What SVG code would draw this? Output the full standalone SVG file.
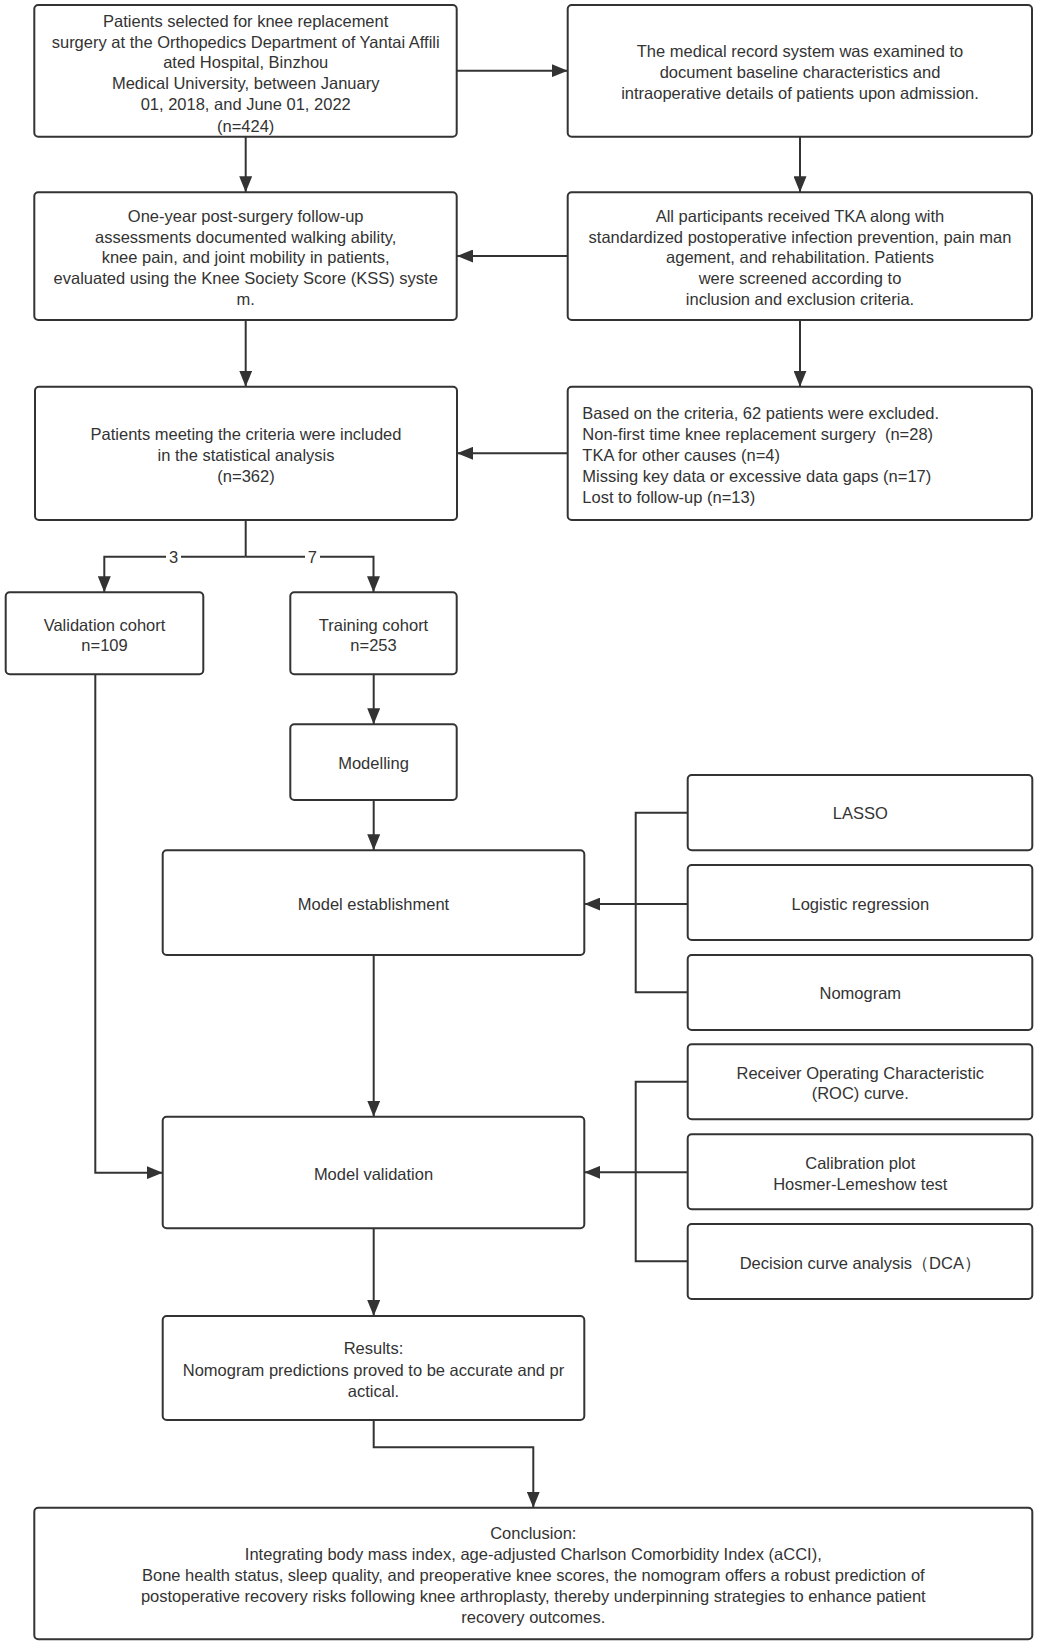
<svg xmlns="http://www.w3.org/2000/svg" width="1037" height="1645" viewBox="0 0 1037 1645">
<style>
.box{fill:#fff;stroke:#333;stroke-width:2}
.t{font-family:"Liberation Sans",Arial,sans-serif;font-size:16.5px;fill:#333;text-anchor:middle}
.tl{font-family:"Liberation Sans",Arial,sans-serif;font-size:16.5px;fill:#333;text-anchor:start}
.c{fill:none;stroke:#333;stroke-width:2}
</style>
<defs>
<marker id="ah" markerUnits="userSpaceOnUse" markerWidth="16" markerHeight="13" refX="16" refY="6.5" orient="auto">
<path d="M0,0 L16,6.5 L0,13 z" fill="#333"/>
</marker>
</defs>
<rect width="1037" height="1645" fill="#fff"/>
<g id="connectors">
<path class="c" d="M457,70.7 H567.7" marker-end="url(#ah)"/>
<path class="c" d="M245.7,137 V192.3" marker-end="url(#ah)"/>
<path class="c" d="M800,137 V192.3" marker-end="url(#ah)"/>
<path class="c" d="M567.7,256 H457" marker-end="url(#ah)"/>
<path class="c" d="M245.7,320 V386.7" marker-end="url(#ah)"/>
<path class="c" d="M800,320 V386.7" marker-end="url(#ah)"/>
<path class="c" d="M567.7,453.3 H457" marker-end="url(#ah)"/>
<path class="c" d="M245.7,520 V556.7"/>
<path class="c" d="M245.7,556.7 H104.3 V592.3" marker-end="url(#ah)"/>
<path class="c" d="M245.7,556.7 H373.5 V592.3" marker-end="url(#ah)"/>
<rect x="166" y="546" width="15" height="20" fill="#fff"/>
<text class="t" x="173.7" y="562.5">3</text>
<rect x="305" y="546" width="15" height="20" fill="#fff"/>
<text class="t" x="312.3" y="562.5">7</text>
<path class="c" d="M373.7,674.3 V724.3" marker-end="url(#ah)"/>
<path class="c" d="M373.7,800 V850.3" marker-end="url(#ah)"/>
<path class="c" d="M95.3,674.3 V1172.7 H162.7" marker-end="url(#ah)"/>
<path class="c" d="M687.7,812.7 H635.7 V992.3 H687.7"/>
<path class="c" d="M687.7,904 H584.3" marker-end="url(#ah)"/>
<path class="c" d="M687.7,1081.7 H635.7 V1261.3 H687.7"/>
<path class="c" d="M687.7,1172.3 H584.3" marker-end="url(#ah)"/>
<path class="c" d="M373.7,955 V1116.7" marker-end="url(#ah)"/>
<path class="c" d="M373.7,1228.3 V1316" marker-end="url(#ah)"/>
<path class="c" d="M373.7,1420 V1447.3 H533.3 V1507.7" marker-end="url(#ah)"/>
</g>
<g id="n1">
<rect class="box" x="34.3" y="5" width="422.4" height="131.7" rx="4"/>
<text class="t" x="245.7" y="26.7">Patients selected for knee replacement</text>
<text class="t" x="245.7" y="47.7">surgery at the Orthopedics Department of Yantai Affili</text>
<text class="t" x="245.7" y="68.3">ated Hospital, Binzhou</text>
<text class="t" x="245.7" y="89.3">Medical University, between January</text>
<text class="t" x="245.7" y="110">01, 2018, and June 01, 2022</text>
<text class="t" x="245.7" y="131.7">(n=424)</text>
</g>
<g id="n2">
<rect class="box" x="567.7" y="5" width="464.3" height="131.7" rx="4"/>
<text class="t" x="800" y="56.7">The medical record system was examined to</text>
<text class="t" x="800" y="77.7">document baseline characteristics and</text>
<text class="t" x="800" y="98.7">intraoperative details of patients upon admission.</text>
</g>
<g id="n3">
<rect class="box" x="34.3" y="192.3" width="422.4" height="127.7" rx="4"/>
<text class="t" x="245.7" y="221.7">One-year post-surgery follow-up</text>
<text class="t" x="245.7" y="242.7">assessments documented walking ability,</text>
<text class="t" x="245.7" y="263.3">knee pain, and joint mobility in patients,</text>
<text class="t" x="245.7" y="284">evaluated using the Knee Society Score (KSS) syste</text>
<text class="t" x="245.7" y="305">m.</text>
</g>
<g id="n4">
<rect class="box" x="567.7" y="192.3" width="464.3" height="127.7" rx="4"/>
<text class="t" x="800" y="221.7">All participants received TKA along with</text>
<text class="t" x="800" y="242.7">standardized postoperative infection prevention, pain man</text>
<text class="t" x="800" y="263.3">agement, and rehabilitation. Patients</text>
<text class="t" x="800" y="284">were screened according to</text>
<text class="t" x="800" y="305">inclusion and exclusion criteria.</text>
</g>
<g id="n5">
<rect class="box" x="35" y="386.7" width="422" height="133.3" rx="4"/>
<text class="t" x="246" y="440">Patients meeting the criteria were included</text>
<text class="t" x="246" y="460.7">in the statistical analysis</text>
<text class="t" x="246" y="481.7">(n=362)</text>
</g>
<g id="n6">
<rect class="box" x="567.7" y="386.7" width="464.3" height="133.3" rx="4"/>
<text class="tl" x="582.3" y="418.7">Based on the criteria, 62 patients were excluded.</text>
<text class="tl" x="582.3" y="439.7" xml:space="preserve">Non-first time knee replacement surgery  (n=28)</text>
<text class="tl" x="582.3" y="460.7">TKA for other causes (n=4)</text>
<text class="tl" x="582.3" y="481.7">Missing key data or excessive data gaps (n=17)</text>
<text class="tl" x="582.3" y="502.7">Lost to follow-up (n=13)</text>
</g>
<g id="n7">
<rect class="box" x="5.7" y="592.3" width="197.6" height="82" rx="4"/>
<text class="t" x="104.5" y="631">Validation cohort</text>
<text class="t" x="104.5" y="651">n=109</text>
</g>
<g id="n8">
<rect class="box" x="290.3" y="592.3" width="166.4" height="82" rx="4"/>
<text class="t" x="373.5" y="631">Training cohort</text>
<text class="t" x="373.5" y="651">n=253</text>
</g>
<g id="n9">
<rect class="box" x="290.3" y="724.3" width="166.4" height="75.7" rx="4"/>
<text class="t" x="373.5" y="769.3">Modelling</text>
</g>
<g id="n10">
<rect class="box" x="162.7" y="850.3" width="421.6" height="104.7" rx="4"/>
<text class="t" x="373.5" y="910">Model establishment</text>
</g>
<g id="n11">
<rect class="box" x="687.7" y="775" width="344.6" height="75.3" rx="4"/>
<text class="t" x="860.3" y="819.3">LASSO</text>
</g>
<g id="n12">
<rect class="box" x="687.7" y="865" width="344.6" height="75" rx="4"/>
<text class="t" x="860.3" y="910">Logistic regression</text>
</g>
<g id="n13">
<rect class="box" x="687.7" y="955" width="344.6" height="75" rx="4"/>
<text class="t" x="860.3" y="999.3">Nomogram</text>
</g>
<g id="n14">
<rect class="box" x="687.7" y="1044.3" width="344.6" height="75" rx="4"/>
<text class="t" x="860.3" y="1078.7">Receiver Operating Characteristic</text>
<text class="t" x="860.3" y="1099.3">(ROC) curve.</text>
</g>
<g id="n15">
<rect class="box" x="687.7" y="1134.3" width="344.6" height="75" rx="4"/>
<text class="t" x="860.3" y="1169.3">Calibration plot</text>
<text class="t" x="860.3" y="1190">Hosmer-Lemeshow test</text>
</g>
<g id="n16">
<rect class="box" x="687.7" y="1224" width="344.6" height="75" rx="4"/>
<text class="t" x="860.3" y="1269.3">Decision curve analysis（DCA）</text>
</g>
<g id="n17">
<rect class="box" x="162.7" y="1116.7" width="421.6" height="111.6" rx="4"/>
<text class="t" x="373.5" y="1180.3">Model validation</text>
</g>
<g id="n18">
<rect class="box" x="162.7" y="1316" width="421.6" height="104" rx="4"/>
<text class="t" x="373.5" y="1354.3">Results:</text>
<text class="t" x="373.5" y="1376">Nomogram predictions proved to be accurate and pr</text>
<text class="t" x="373.5" y="1396.7">actical.</text>
</g>
<g id="n19">
<rect class="box" x="34.3" y="1507.7" width="998" height="131.6" rx="4"/>
<text class="t" x="533.3" y="1539.3">Conclusion:</text>
<text class="t" x="533.3" y="1560">Integrating body mass index, age-adjusted Charlson Comorbidity Index (aCCI),</text>
<text class="t" x="533.3" y="1581">Bone health status, sleep quality, and preoperative knee scores, the nomogram offers a robust prediction of</text>
<text class="t" x="533.3" y="1602">postoperative recovery risks following knee arthroplasty, thereby underpinning strategies to enhance patient</text>
<text class="t" x="533.3" y="1623">recovery outcomes.</text>
</g>
</svg>
